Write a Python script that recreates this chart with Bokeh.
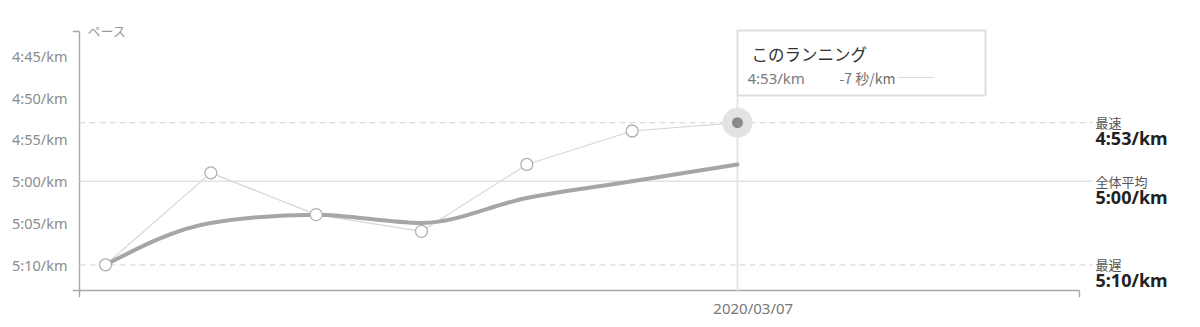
from bokeh.plotting import figure
from bokeh.models import Range1d, FixedTicker
from bokeh.core.properties import value
from bokeh.embed import file_html
from bokeh.resources import INLINE

# ---------------- data ----------------
run_index = [0, 1, 2, 3, 4, 5, 6]
pace_sec = [310, 299, 304, 306, 298, 294, 293]      # each run's pace (sec/km)
trend_sec = [310, 305, 304, 305, 302, 300, 298]     # smoothed trend (sec/km)
average_sec = 300
fastest_sec = 293
slowest_sec = 310
y_ticks = [285, 290, 295, 300, 305, 310]
y_tick_labels = ["4:45/km", "4:50/km", "4:55/km", "5:00/km", "5:05/km", "5:10/km"]
x_tick = 6.15
x_tick_label = "2020/03/07"
axis_title = "ペース"
tooltip_title = "このランニング"
ref_names = ["最速", "全体平均", "最遅"]


def fmt(sec):
    return "%d:%02d/km" % (sec // 60, sec % 60)


# ---------------- layout ----------------
W, H = 1200, 327
LEFT, BOTTOM = 72, 30
FRAME_W, FRAME_H = W - LEFT, H - BOTTOM
X_START, X_END = -0.3133, 10.396
Y_TOP, Y_BOT = 278.39, 313.91


def px2x(px):
    return X_START + (px - LEFT) / FRAME_W * (X_END - X_START)


def px2y(py):
    return Y_TOP + py / FRAME_H * (Y_BOT - Y_TOP)


LATIN = value("Noto Sans")
CJK = value("Noto Sans CJK JP")

p = figure(width=W, height=H, output_backend="svg", toolbar_location=None,
           x_range=Range1d(X_START, X_END), y_range=Range1d(Y_BOT, Y_TOP),
           min_border_left=LEFT, min_border_right=0, min_border_top=0,
           min_border_bottom=BOTTOM)
p.outline_line_color = None
p.xgrid.visible = False
p.ygrid.visible = False
p.background_fill_color = "white"
p.border_fill_color = "white"

# axes (labels only; lines drawn separately)
p.yaxis.ticker = FixedTicker(ticks=y_ticks)
p.yaxis.major_label_overrides = {t: l for t, l in zip(y_ticks, y_tick_labels)}
p.yaxis.axis_line_color = None
p.yaxis.major_tick_line_color = None
p.yaxis.minor_tick_line_color = None
p.yaxis.major_tick_out = 0
p.yaxis.major_label_standoff = 5
p.yaxis.major_label_text_font = "Noto Sans"
p.yaxis.major_label_text_font_size = "14.5px"
p.yaxis.major_label_text_color = "#8c8c8c"

p.xaxis.ticker = FixedTicker(ticks=[x_tick])
p.xaxis.major_label_overrides = {x_tick: x_tick_label}
p.xaxis.axis_line_color = None
p.xaxis.major_tick_line_color = None
p.xaxis.minor_tick_line_color = None
p.xaxis.major_tick_out = 0
p.xaxis.major_label_standoff = 0
p.xaxis.axis_label_standoff = 0
p.xaxis.major_label_text_font = "Noto Sans"
p.xaxis.major_label_text_font_size = "15px"
p.xaxis.major_label_text_color = "#777777"

# axis lines
axis_col = "#a8a8a8"
p.segment(x0=[px2x(79), px2x(72), px2x(72), px2x(1079)],
          y0=[px2y(31), px2y(31), px2y(290), px2y(290)],
          x1=[px2x(79), px2x(79), px2x(1079), px2x(1079)],
          y1=[px2y(297), px2y(31), px2y(290), px2y(297)],
          line_color=axis_col, line_width=1.4)

# reference lines
rx0, rx1 = px2x(79), px2x(1092)
p.segment(x0=[rx0], y0=[average_sec], x1=[rx1], y1=[average_sec],
          line_color="#e2e2e2", line_width=1.5)
p.segment(x0=[rx0, rx0], y0=[fastest_sec, slowest_sec], x1=[rx1, rx1],
          y1=[fastest_sec, slowest_sec], line_color="#dcdcdc", line_width=1.2,
          line_dash="6 4")

# crosshair
p.segment(x0=[run_index[-1]], y0=[px2y(95)], x1=[run_index[-1]], y1=[px2y(290)],
          line_color="#e6e6e6", line_width=2)

# per-run line
p.line(run_index, pace_sec, line_color="#d6d6d6", line_width=1.2)

# smoothed trend: monotone-x cubic drawn with bezier glyphs
n = len(run_index)
slopes = []
for i in range(n - 1):
    slopes.append((trend_sec[i + 1] - trend_sec[i]) / (run_index[i + 1] - run_index[i]))


def sgn(v):
    return -1 if v < 0 else 1


tang = [0.0] * n
for i in range(1, n - 1):
    s0, s1 = slopes[i - 1], slopes[i]
    h0 = run_index[i] - run_index[i - 1]
    h1 = run_index[i + 1] - run_index[i]
    pp = (s0 * h1 + s1 * h0) / (h0 + h1)
    t = (sgn(s0) + sgn(s1)) * min(abs(s0), abs(s1), 0.5 * abs(pp))
    tang[i] = t if t == t else 0.0
tang[0] = (3 * slopes[0] - tang[1]) / 2
tang[-1] = (3 * slopes[-1] - tang[-2]) / 2

bx0, by0, bx1, by1, c0x, c0y, c1x, c1y = [], [], [], [], [], [], [], []
for i in range(n - 1):
    dx = (run_index[i + 1] - run_index[i]) / 3
    bx0.append(run_index[i]); by0.append(trend_sec[i])
    bx1.append(run_index[i + 1]); by1.append(trend_sec[i + 1])
    c0x.append(run_index[i] + dx); c0y.append(trend_sec[i] + dx * tang[i])
    c1x.append(run_index[i + 1] - dx); c1y.append(trend_sec[i + 1] - dx * tang[i + 1])
p.bezier(x0=bx0, y0=by0, x1=bx1, y1=by1, cx0=c0x, cy0=c0y, cx1=c1x, cy1=c1y,
         line_color="#a6a6a6", line_width=4, line_cap="round")

# markers
p.scatter(run_index[:-1], pace_sec[:-1], size=12, fill_color="white",
          line_color="#b0b0b0", line_width=1.3)
p.scatter([run_index[-1]], [pace_sec[-1]], size=30, fill_color="#e3e3e3",
          line_color=None)
p.scatter([run_index[-1]], [pace_sec[-1]], size=11, fill_color="#8a8a8a",
          line_color=None)

# axis title
p.text(x=[px2x(87)], y=[px2y(30)], text=[axis_title], text_font=CJK,
       text_font_size="13px", text_color="#999999", text_align="left",
       text_baseline="middle")

# tooltip box
p.quad(left=[px2x(737)], right=[px2x(985)], top=[px2y(30)], bottom=[px2y(95)],
       fill_color="white", line_color="#dddddd", line_width=2)
p.text(x=[px2x(751)], y=[px2y(53)], text=[tooltip_title], text_font=CJK,
       text_font_size="16.5px", text_color="#333333", text_align="left",
       text_baseline="middle")
p.text(x=[px2x(747)], y=[px2y(77)], text=[fmt(pace_sec[-1])], text_font=LATIN,
       text_font_size="15px", text_color="#7a7a7a", text_align="left",
       text_baseline="middle")
p.text(x=[px2x(839)], y=[px2y(77)],
       text=["%d 秒/km" % (pace_sec[-1] - average_sec)], text_font=CJK,
       text_font_size="14px", text_color="#707070", text_align="left",
       text_baseline="middle")
p.segment(x0=[px2x(897)], y0=[px2y(77)], x1=[px2x(934)], y1=[px2y(77)],
          line_color="#dddddd", line_width=1)

# right reference labels
ref_vals = [fastest_sec, average_sec, slowest_sec]
lx = px2x(1095)
p.text(x=[lx] * 3, y=ref_vals, text=ref_names, text_font=CJK,
       text_font_size="13px", text_color="#555555", text_align="left",
       text_baseline="middle")
p.text(x=[lx] * 3, y=[v + 15.5 / 8.362 for v in ref_vals],
       text=[fmt(v) for v in ref_vals], text_font=LATIN,
       text_font_size="18px", text_font_style="bold", text_color="#222222",
       text_align="left", text_baseline="middle")

open("out.html", "w").write(file_html(p, INLINE))
